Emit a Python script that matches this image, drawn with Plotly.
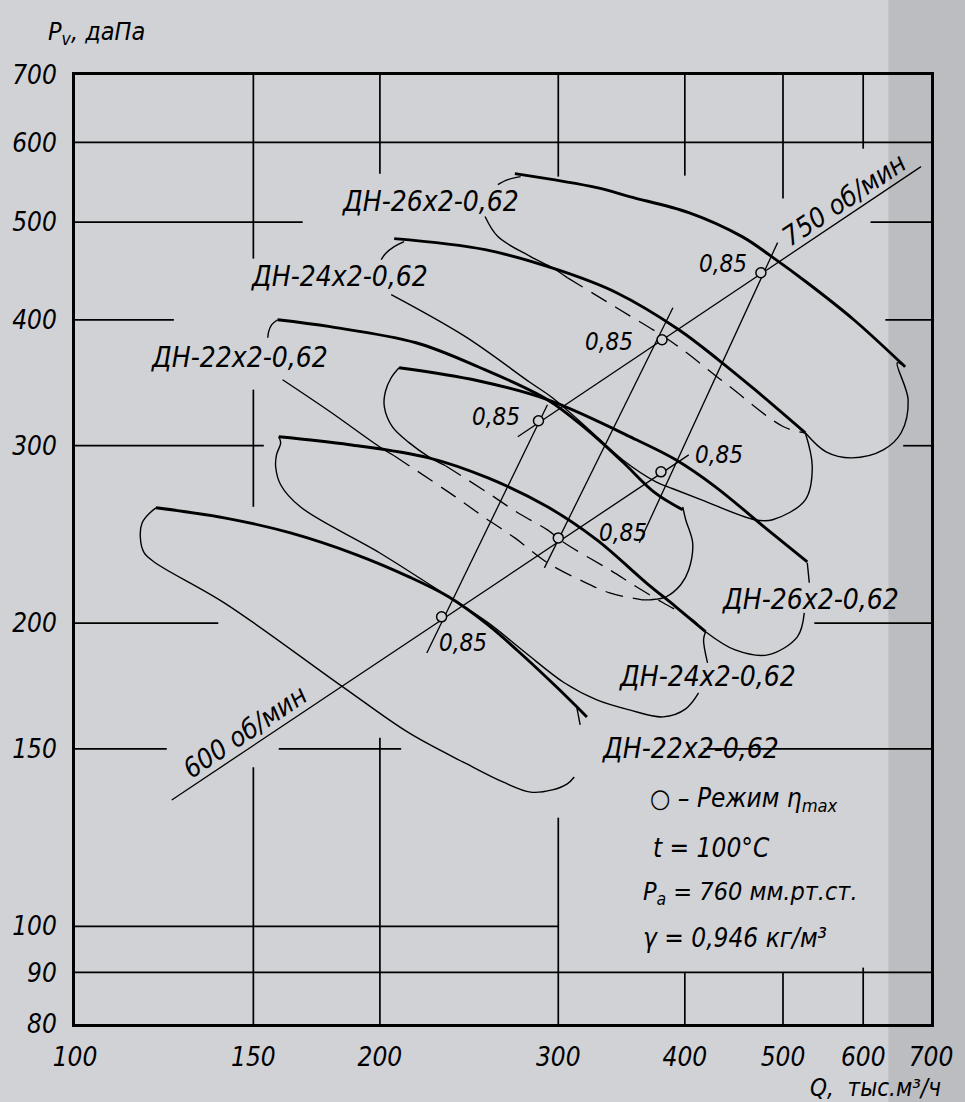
import math
import plotly.graph_objects as go

FONT = "DejaVu Sans Condensed, DejaVu Sans, sans-serif"
BG = "#D1D2D6"
STRIP = "#BBBDC0"

# ---------------- axis ticks ----------------
x_ticks = [100, 150, 200, 300, 400, 500, 600, 700]
y_ticks = [80, 90, 100, 150, 200, 300, 400, 500, 600, 700]

# ---------------- thick P–Q characteristics (Q, тыс.м3/ч ; P, даПа) ----------------
dn22_600_q = [120.2, 140.4, 163.2, 189.7, 213.7, 233.8, 255.7, 277.9, 299.4, 320.2]
dn22_600_p = [260.3, 254.4, 245.8, 233.8, 222.3, 212.4, 199.2, 185.1, 172.5, 161.4]
dn22_750_q = [158.5, 178.6, 217.1, 250.0, 292.7, 320.2, 347.2, 373.9, 398.1]
dn22_750_p = [400.1, 393.8, 379.6, 359.3, 333.3, 311.2, 289.2, 269.3, 259.1]
dn24_600_q = [158.9, 186.7, 223.5, 255.7, 292.7, 327.5, 366.4, 391.9, 419.3]
dn24_600_p = [306.2, 300.7, 291.8, 278.7, 260.9, 241.9, 219.3, 207.6, 196.1]
dn24_750_q = [206.6, 254.0, 299.4, 342.5, 394.6, 431.7, 469.1, 526.0]
dn24_750_p = [481.6, 469.6, 448.6, 425.6, 391.1, 365.1, 341.0, 309.0]
dn26_600_q = [208.9, 250.0, 292.7, 358.3, 391.9, 428.8, 483.0, 528.4]
dn26_600_p = [358.5, 348.0, 333.3, 304.1, 290.5, 273.1, 247.5, 230.1]
dn26_750_q = [271.8, 327.5, 352.7, 403.6, 455.6, 487.3, 528.4, 587.3, 660.0]
dn26_750_p = [558.7, 541.1, 530.1, 511.1, 483.8, 462.2, 435.4, 400.1, 359.3]

# ---------------- thin working-zone contours ----------------
zone22_600_q = [120.2, 118.6, 116.5, 116.0, 117.0, 120.0, 140.4, 183.8, 213.7, 242.9, 264.5, 281.7, 296.0, 306.2, 311.1]
zone22_600_p = [260.3, 257.4, 251.6, 243.6, 234.9, 229.6, 209.5, 172.9, 155.6, 145.2, 139.1, 135.9, 136.6, 138.5, 140.7]
zone22_600b_q = [315.3, 313.0]
zone22_600b_p = [158.5, 164.7]

zone24_600_q = [158.9, 159.6, 158.1, 157.8, 159.6, 166.9, 199.8, 233.8, 255.7, 277.9, 304.1, 327.5, 352.7, 380.7, 400.8, 412.7]
zone24_600_p = [306.2, 302.1, 293.8, 285.9, 274.4, 260.9, 234.9, 212.4, 200.2, 187.2, 174.5, 167.8, 164.0, 161.4, 164.4, 170.5]
zone24_600b_q = [421.2, 417.4, 419.3]
zone24_600b_p = [182.6, 192.5, 196.1]

zone26_600a_q = [208.9, 205.2, 202.5, 202.0, 205.7, 213.7, 223.5, 232.2]
zone26_600a_p = [358.5, 350.4, 339.4, 328.0, 313.3, 302.1, 292.5, 286.6]
zone26_600d_q = [232.2, 255.7, 273.6, 292.7, 304.1, 337.2, 358.3, 380.7, 407.2, 419.3]
zone26_600d_p = [286.6, 269.3, 257.4, 247.5, 240.3, 225.9, 217.3, 209.5, 201.5, 196.1]
zone26_600b_q = [419.3, 448.5, 483.0, 516.6, 524.8]
zone26_600b_p = [196.1, 188.1, 186.0, 193.8, 204.7]
zone26_600c_q = [530.8, 528.4]
zone26_600c_p = [219.3, 229.6]

zone22_750a_q = [158.5, 156.4, 155.3, 155.0]
zone22_750a_p = [400.1, 395.6, 389.4, 384.0]
zone22_750b_q = [160.3, 178.6, 199.8, 206.6]
zone22_750b_p = [348.8, 324.2, 299.3, 293.2]
zone22_750d_q = [206.6, 237.5, 254.0, 271.8, 292.7, 318.0, 337.2, 362.3]
zone22_750d_p = [293.2, 266.9, 254.4, 243.0, 229.6, 219.8, 214.3, 211.0]
zone22_750c_q = [362.3, 370.6, 383.3, 396.3, 403.6, 407.2, 400.8, 398.1]
zone22_750c_p = [211.0, 211.0, 212.4, 218.3, 225.9, 240.3, 253.3, 260.9]

zone24_750a_q = [211.3, 206.6, 202.5, 200.6]
zone24_750a_p = [478.3, 472.8, 465.3, 459.0]
zone24_750b_q = [205.2, 242.9, 281.7, 296.0, 320.2, 347.2, 374.6, 389.3, 415.5, 469.1, 488.4, 526.0, 534.4, 526.0]
zone24_750b_p = [423.7, 384.9, 346.4, 334.8, 312.6, 290.5, 276.2, 271.9, 265.1, 253.3, 253.3, 265.1, 285.9, 309.0]

zone26_750a_q = [275.4, 267.5, 261.5]
zone26_750a_p = [554.9, 551.1, 544.9]
zone26_750b_q = [254.0, 261.5, 281.7, 296.0, 306.2]
zone26_750b_p = [506.5, 483.8, 462.2, 450.6, 440.5]
zone26_750d_q = [306.2, 342.5, 389.3, 440.5, 500.6, 526.0]
zone26_750d_p = [440.5, 411.2, 379.6, 344.9, 313.3, 309.0]
zone26_750c_q = [526.0, 551.5, 584.6, 628.1, 654.1, 664.5, 648.2, 660.0]
zone26_750c_p = [309.0, 295.8, 291.8, 297.2, 309.0, 333.3, 362.6, 359.3]

# ---------------- speed rays and similarity lines ----------------
ray600_q = [124.6, 403.6]
ray600_p = [133.5, 293.8]
ray750_q = [273.6, 684.3]
ray750_p = [306.2, 567.7]
sim22_q = [222.5, 292.7]
sim22_p = [186.8, 329.4]
sim24_q = [290.7, 389.3]
sim24_p = [226.9, 411.2]
sim26_q = [360.7, 493.9]
sim26_p = [240.3, 477.2]

# ---------------- eta-max points ----------------
etamax_q = [230.1, 286.8, 300.0, 379.8, 378.9, 475.5]
etamax_p = [202.9, 317.6, 243.0, 382.2, 282.6, 445.5]
eta_label_q = [241.4, 260.4, 347.9, 336.4, 432.6, 436.5]
eta_label_p = [191.1, 320.6, 245.8, 380.6, 293.8, 454.7]
eta_label_text = ["0,85"] * 6

# ---------------- model labels ----------------
model_text = ["ДН-22x2-0,62", "ДН-24x2-0,62", "ДН-26x2-0,62",
              "ДН-22x2-0,62", "ДН-24x2-0,62", "ДН-26x2-0,62"]
model_q = [145.2, 182.6, 224.5, 405.4, 421.2, 532.0]
model_p = [366.8, 441.5, 524.2, 150.1, 176.9, 211.0]

# ---------------- partial grid segments ----------------
hgrid = [  # (P, Q from, Q to)
    (600, 100, 700), (500, 100, 167.8), (500, 610.1, 700),
    (400, 100, 125.2), (400, 631.0, 700), (300, 100, 153.6), (300, 657.1, 700),
    (200, 100, 138.5), (200, 536.9, 700), (150, 100, 123.2), (150, 158.9, 209.9),
    (150, 417.4, 700), (100, 100, 300), (90, 100, 700),
]
vgrid = [  # (Q, P from, P to)
    (150, 460.1, 700), (150, 260.9, 341.0), (150, 80, 143.9),
    (200, 558.7, 700), (200, 80, 153.9), (300, 554.9, 700), (300, 80, 128.2),
    (400, 556.2, 700), (400, 80, 90), (500, 527.7, 700), (500, 80, 90),
    (600, 591.5, 700), (600, 80, 91.0),
]

fig = go.Figure()

gx, gy = [], []
for p, q0, q1 in hgrid:
    gx += [q0, q1, None]
    gy += [p, p, None]
for q, p0, p1 in vgrid:
    gx += [q, q, None]
    gy += [p0, p1, None]
fig.add_trace(go.Scatter(x=gx, y=gy, mode="lines", line=dict(color="black", width=1.7),
                         hoverinfo="skip", showlegend=False))


def line(q, p, width, dash="solid", shape="spline"):
    fig.add_trace(go.Scatter(x=q, y=p, mode="lines",
                             line=dict(color="black", width=width, dash=dash, shape=shape),
                             hoverinfo="skip", showlegend=False))


# straight lines
for q, p in [(ray600_q, ray600_p), (ray750_q, ray750_p), (sim22_q, sim22_p),
             (sim24_q, sim24_p), (sim26_q, sim26_p)]:
    line(q, p, 1.3, shape="linear")

# thin zone contours
solid_pieces = [
    (zone22_600_q, zone22_600_p), (zone22_600b_q, zone22_600b_p),
    (zone24_600_q, zone24_600_p), (zone24_600b_q, zone24_600b_p),
    (zone26_600a_q, zone26_600a_p), (zone26_600b_q, zone26_600b_p), (zone26_600c_q, zone26_600c_p),
    (zone22_750a_q, zone22_750a_p), (zone22_750b_q, zone22_750b_p), (zone22_750c_q, zone22_750c_p),
    (zone24_750a_q, zone24_750a_p), (zone24_750b_q, zone24_750b_p),
    (zone26_750a_q, zone26_750a_p), (zone26_750b_q, zone26_750b_p), (zone26_750c_q, zone26_750c_p),
]
for q, p in solid_pieces:
    line(q, p, 1.4)
for q, p in [(zone26_600d_q, zone26_600d_p), (zone22_750d_q, zone22_750d_p), (zone26_750d_q, zone26_750d_p)]:
    line(q, p, 1.3, dash="18px,10px")

# thick characteristics
for q, p in [(dn22_600_q, dn22_600_p), (dn22_750_q, dn22_750_p), (dn24_600_q, dn24_600_p),
             (dn24_750_q, dn24_750_p), (dn26_600_q, dn26_600_p), (dn26_750_q, dn26_750_p)]:
    line(q, p, 2.9)

# eta max markers
fig.add_trace(go.Scatter(x=etamax_q, y=etamax_p, mode="markers",
                         marker=dict(symbol="circle", size=10, color=BG,
                                     line=dict(color="black", width=1.5)),
                         hoverinfo="skip", showlegend=False))

annotations = []


def text(q, p, s, size, angle=0, xanchor="center", yanchor="middle"):
    annotations.append(dict(x=math.log10(q), y=math.log10(p), xref="x", yref="y", text=s,
                            showarrow=False, textangle=angle, xanchor=xanchor, yanchor=yanchor,
                            font=dict(family=FONT, size=size, color="black", style="italic")))


for q, p, s in zip(eta_label_q, eta_label_p, eta_label_text):
    text(q, p, s, 24)
for q, p, s in zip(model_q, model_p, model_text):
    text(q, p, s, 28)

text(147.2, 156.0, "600 об/мин", 27, angle=-34)
text(574.1, 526.5, "750 об/мин", 27, angle=-34)

text(368.0, 133.5, "○ – Режим η<sub>max</sub>", 26, xanchor="left")
text(370.6, 119.7, "t = 100°C", 26, xanchor="left")
text(362.3, 107.9, "P<sub>a</sub> = 760 мм.рт.ст.", 25, xanchor="left")
text(362.3, 97.4, "γ = 0,946 кг/м³", 26, xanchor="left")

# axis titles
annotations.append(dict(x=-0.034, y=1.044, xref="paper", yref="paper", text="P<sub>v</sub>, даПа",
                        showarrow=False, xanchor="left", yanchor="middle",
                        font=dict(family=FONT, size=25, color="black", style="italic")))
annotations.append(dict(x=1.014, y=-0.067, xref="paper", yref="paper", text="Q,  тыс.м³/ч",
                        showarrow=False, xanchor="right", yanchor="middle",
                        font=dict(family=FONT, size=24, color="black", style="italic")))

axis_font = dict(family=FONT, size=26, color="black", style="italic")
fig.update_layout(
    width=965, height=1102,
    margin=dict(l=72, r=27, t=75, b=78),
    paper_bgcolor=BG, plot_bgcolor="rgba(0,0,0,0)",
    showlegend=False,
    annotations=annotations,
    shapes=[dict(type="rect", xref="paper", yref="paper", x0=0.9503, x1=1.2, y0=-0.2, y1=1.2,
                 fillcolor=STRIP, line=dict(width=0), layer="below")],
    xaxis=dict(type="log", range=[math.log10(100), math.log10(700)], tickvals=x_ticks,
               ticktext=[str(v) for v in x_ticks], showgrid=False, zeroline=False,
               showline=True, linewidth=3, linecolor="black", mirror=True, ticks="",
               tickfont=axis_font, ticklabelstandoff=8),
    yaxis=dict(type="log", range=[math.log10(80), math.log10(700)], tickvals=y_ticks,
               ticktext=[str(v) for v in y_ticks], showgrid=False, zeroline=False,
               showline=True, linewidth=3, linecolor="black", mirror=True, ticks="",
               tickfont=axis_font, ticklabelstandoff=10),
)

fig.write_html("out.html",
               config={"displayModeBar": False},
               post_script="document.body.style.margin='0px';document.body.style.padding='0px';"
                           "document.documentElement.style.overflow='hidden';"
                           "document.body.style.background='" + BG + "';")
